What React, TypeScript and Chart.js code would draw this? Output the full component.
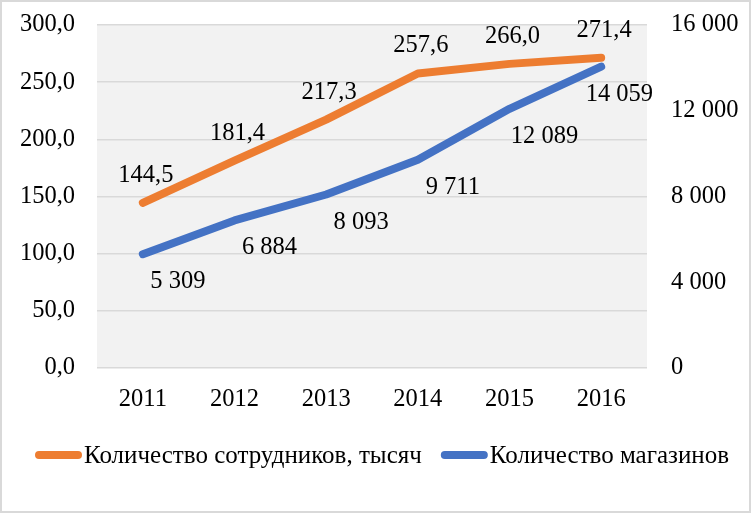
import React, { useEffect, useRef } from 'react';
import { Chart, registerables } from 'chart.js';

Chart.register(...registerables);

const years = ['2011', '2012', '2013', '2014', '2015', '2016'];
const employees = [144.5, 181.4, 217.3, 257.6, 266.0, 271.4];
const stores = [5309, 6884, 8093, 9711, 12089, 14059];
const seriesNames = ['Количество сотрудников, тысяч', 'Количество магазинов'];
const seriesColors = ['#ED7D31', '#4472C4'];

const FONT = '"Liberation Serif", "Times New Roman", serif';
const FS = 24.5;
const LEGEND_FS = 25;

const fmtLeft = (v: number) => v.toFixed(1).replace('.', ',');
const fmtRight = (v: number) => String(Math.round(v)).replace(/\B(?=(\d{3})+(?!\d))/g, ' ');

const bgPlugin = {
  id: 'plotBg',
  beforeDraw(chart: any) {
    const { ctx, chartArea } = chart;
    ctx.save();
    ctx.fillStyle = '#ffffff';
    ctx.fillRect(0, 0, chart.width, chart.height);
    ctx.fillStyle = '#f2f2f2';
    ctx.fillRect(chartArea.left, chartArea.top, chartArea.right - chartArea.left, chartArea.bottom - chartArea.top);
    ctx.restore();
  },
};

const labelPlugin = {
  id: 'valueLabels',
  afterDatasetsDraw(chart: any) {
    const ctx = chart.ctx;
    ctx.save();
    ctx.font = `${FS}px ${FONT}`;
    ctx.fillStyle = '#000';
    ctx.textAlign = 'center';
    ctx.textBaseline = 'alphabetic';
    const m0 = chart.getDatasetMeta(0);
    m0.data.forEach((p: any, i: number) => {
      ctx.fillText(fmtLeft(employees[i]), p.x + 3, p.y - 29 + 8);
    });
    const m1 = chart.getDatasetMeta(1);
    m1.data.forEach((p: any, i: number) => {
      const t = fmtRight(stores[i]);
      const w = ctx.measureText(t).width;
      const x = Math.min(p.x + 35, chart.chartArea.right - w / 2 + 6);
      ctx.fillText(t, x, p.y + 26 + 8);
    });
    ctx.restore();
  },
};

const legendPlugin = {
  id: 'customLegend',
  afterDraw(chart: any) {
    const ctx = chart.ctx;
    ctx.save();
    ctx.font = `${LEGEND_FS}px ${FONT}`;
    const sample = 47;
    const gap = 2;
    const spacing = 19;
    const widths = seriesNames.map((n) => ctx.measureText(n).width);
    const total = widths.reduce((a, w) => a + sample + gap + w, 0) + spacing * (seriesNames.length - 1);
    let x = 382 - total / 2;
    const y = 455;
    seriesNames.forEach((n, i) => {
      ctx.strokeStyle = seriesColors[i];
      ctx.lineWidth = 8;
      ctx.lineCap = 'round';
      ctx.beginPath();
      ctx.moveTo(x + 4, y);
      ctx.lineTo(x + sample - 4, y);
      ctx.stroke();
      ctx.fillStyle = '#000';
      ctx.textAlign = 'left';
      ctx.textBaseline = 'alphabetic';
      ctx.fillText(n, x + sample + gap, y + 8);
      x += sample + gap + widths[i] + spacing;
    });
    ctx.restore();
  },
};

export default function App() {
  const ref = useRef<HTMLCanvasElement | null>(null);
  useEffect(() => {
    document.body.style.margin = '0';
    const canvas = ref.current;
    if (!canvas) return;
    const chart = new Chart(canvas, {
      type: 'line',
      data: {
        labels: years,
        datasets: [
          {
            label: seriesNames[0],
            data: employees,
            borderColor: seriesColors[0],
            backgroundColor: seriesColors[0],
            borderWidth: 8,
            pointRadius: 0,
            borderCapStyle: 'round',
            borderJoinStyle: 'round',
            tension: 0,
            yAxisID: 'y',
          },
          {
            label: seriesNames[1],
            data: stores,
            borderColor: seriesColors[1],
            backgroundColor: seriesColors[1],
            borderWidth: 8,
            pointRadius: 0,
            borderCapStyle: 'round',
            borderJoinStyle: 'round',
            tension: 0,
            yAxisID: 'y1',
          },
        ],
      },
      options: {
        responsive: false,
        animation: false,
        devicePixelRatio: 1,
        layout: { padding: { top: 25, left: 0, right: 0, bottom: 0 } },
        plugins: { legend: { display: false }, tooltip: { enabled: false } },
        scales: {
          x: {
            offset: true,
            grid: { display: false, drawTicks: false },
            border: { display: false },
            ticks: { color: '#000', font: { family: FONT, size: FS }, padding: 17 },
            afterFit: (s: any) => { s.height = 146; s.paddingLeft = 0; s.paddingRight = 0; },
          },
          y: {
            position: 'left',
            min: 0,
            max: 300,
            grid: { color: '#d9d9d9', lineWidth: 1.5, drawTicks: false },
            border: { display: false },
            ticks: {
              stepSize: 50,
              color: '#000',
              font: { family: FONT, size: FS },
              padding: 22,
              callback: (v: any) => fmtLeft(Number(v)),
            },
            afterFit: (s: any) => { s.width = 97; s.paddingTop = 0; s.paddingBottom = 0; },
          },
          y1: {
            position: 'right',
            min: 0,
            max: 16000,
            grid: { display: false, drawTicks: false },
            border: { display: false },
            ticks: {
              stepSize: 4000,
              color: '#000',
              font: { family: FONT, size: FS },
              padding: 24,
              callback: (v: any) => fmtRight(Number(v)),
            },
            afterFit: (s: any) => { s.width = 105; s.paddingTop = 0; s.paddingBottom = 0; },
          },
        },
      },
      plugins: [bgPlugin, labelPlugin, legendPlugin],
    } as any);
    return () => chart.destroy();
  }, []);
  return (
    <div style={{ position: 'relative', width: 752, height: 514 }}>
      <canvas ref={ref} width={752} height={514} style={{ display: 'block', position: 'absolute', left: 0, top: 0 }} />
      <div
        style={{
          position: 'absolute',
          left: 0,
          top: 0,
          width: 751,
          height: 513,
          boxSizing: 'border-box',
          border: '2px solid #d9d9d9',
          pointerEvents: 'none',
        }}
      />
    </div>
  );
}
